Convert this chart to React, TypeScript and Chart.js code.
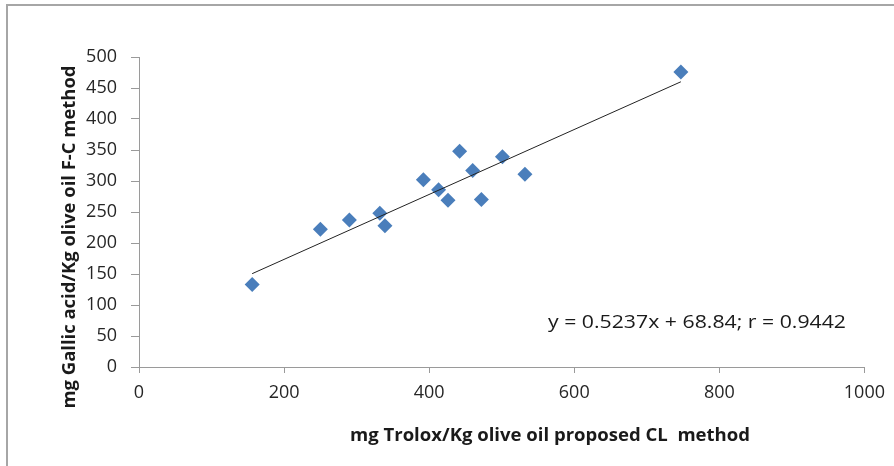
import React, { useEffect, useRef } from "react";
import { Chart, registerables } from "chart.js";

Chart.register(...registerables);

// Data
const clValues = [156, 250, 290, 332, 339, 392, 413, 426, 442, 460, 472, 501, 532, 747];
const fcValues = [133, 222, 237, 248, 228, 302, 286, 269, 348, 317, 270, 339, 311, 476];

const slope = 0.5237;
const intercept = 68.84;
const equationText = "y = 0.5237x + 68.84; r = 0.9442";

const xTitle = "mg Trolox/Kg olive oil proposed CL  method";
const yTitle = "mg Gallic acid/Kg olive oil F-C method";

const xTicks = { min: 0, max: 1000, step: 200 };
const yTicks = { min: 0, max: 500, step: 50 };

const FONT = "'Open Sans', 'Liberation Sans', sans-serif";

function stretchedText(ctx: any, text: string, x: number, y: number, width: number, rot: number) {
  ctx.save();
  ctx.translate(x, y);
  ctx.rotate(rot);
  const w = ctx.measureText(text).width;
  ctx.scale(width / w, 1);
  ctx.fillText(text, 0, 0);
  ctx.restore();
}

const overlayPlugin = {
  id: "overlay",
  beforeDraw(chart: any) {
    const ctx = chart.ctx;
    ctx.save();
    ctx.strokeStyle = "#a6a6a6";
    ctx.lineWidth = 2;
    ctx.beginPath();
    ctx.moveTo(7, chart.height);
    ctx.lineTo(7, 5);
    ctx.lineTo(chart.width, 5);
    ctx.stroke();
    ctx.restore();
  },
  afterDraw(chart: any) {
    const ctx = chart.ctx;
    ctx.save();
    ctx.fillStyle = "#1a1a1a";
    ctx.textAlign = "center";
    ctx.textBaseline = "middle";
    ctx.font = `bold 18px ${FONT}`;
    stretchedText(ctx, xTitle, 550, 436, 400, 0);
    stretchedText(ctx, yTitle, 70, 237, 343, -Math.PI / 2);
    ctx.font = `19px ${FONT}`;
    stretchedText(ctx, equationText, 697, 323, 298, 0);
    ctx.restore();
  },
};

export default function App() {
  const ref = useRef<HTMLCanvasElement>(null);
  useEffect(() => {
    const points = clValues.map((x, i) => ({ x, y: fcValues[i] }));
    const xMin = Math.min(...clValues);
    const xMax = Math.max(...clValues);
    const trend = [
      { x: xMin, y: slope * xMin + intercept },
      { x: xMax, y: slope * xMax + intercept },
    ];
    const chart = new Chart(ref.current!, {
      type: "scatter",
      data: {
        datasets: [
          {
            type: "line",
            data: trend,
            borderColor: "#222",
            borderWidth: 1,
            pointRadius: 0,
            fill: false,
          } as any,
          {
            data: points,
            pointStyle: "rectRot",
            pointRadius: 7.5,
            backgroundColor: "#4a7ebb",
            borderColor: "#4a7ebb",
            borderWidth: 0,
          },
        ],
      },
      options: {
        animation: false,
        responsive: false,
        layout: { padding: { top: 57, right: 29, left: 0, bottom: 0 } },
        plugins: { legend: { display: false }, tooltip: { enabled: false } },
        scales: {
          x: {
            type: "linear",
            min: xTicks.min,
            max: xTicks.max,
            afterFit: (s: any) => {
              s.height = 99;
            },
            ticks: {
              stepSize: xTicks.step,
              color: "#262626",
              font: { family: FONT, size: 18 },
              padding: 9,
              callback: (v: any) => String(v),
            },
            grid: { drawOnChartArea: false, tickLength: 6, color: "#9a9a9a" },
            border: { color: "#9a9a9a", width: 1 },
          },
          y: {
            type: "linear",
            min: yTicks.min,
            max: yTicks.max,
            afterFit: (s: any) => {
              s.width = 139;
            },
            ticks: {
              stepSize: yTicks.step,
              color: "#262626",
              font: { family: FONT, size: 18 },
              padding: 14,
              callback: (v: any) => String(v),
            },
            grid: { drawOnChartArea: false, tickLength: 8, color: "#9a9a9a" },
            border: { color: "#9a9a9a", width: 1 },
          },
        },
      },
      plugins: [overlayPlugin],
    });
    return () => chart.destroy();
  }, []);
  return (
    <div style={{ position: "fixed", left: 0, top: 0, width: 894, height: 466, background: "#fff" }}>
      <canvas ref={ref} width={894} height={466} />
    </div>
  );
}
